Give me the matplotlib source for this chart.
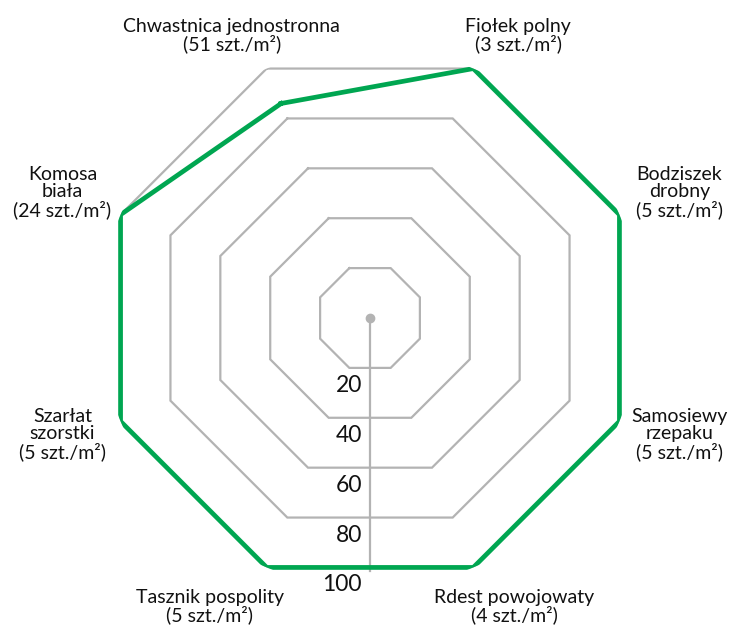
import numpy as np
import matplotlib
matplotlib.use("Agg")
import matplotlib.pyplot as plt

plt.rcParams['font.family'] = ['Lato', 'DejaVu Sans']

categories = [
    "Chwastnica jednostronna\n(51 szt./m²)",
    "Fiołek polny\n(3 szt./m²)",
    "Bodziszek\ndrobny\n(5 szt./m²)",
    "Samosiewy\nrzepaku\n(5 szt./m²)",
    "Rdest powojowaty\n(4 szt./m²)",
    "Tasznik pospolity\n(5 szt./m²)",
    "Szarłat\nszorstki\n(5 szt./m²)",
    "Komosa\nbiała\n(24 szt./m²)",
]
values = [86, 100, 100, 100, 100, 100, 100, 100]
levels = [20, 40, 60, 80, 100]
level_labels = ["20", "40", "60", "80", "100"]

# label offsets in pixels from each vertex
label_offsets = [(-35, 33), (45, 33), (60, 22), (60, -13),
                 (41, -39), (-57, -39), (-58, -13), (-58, 22)]

W, H = 729, 628
fig = plt.figure(figsize=(W / 100, H / 100), dpi=100)
cx, cy, R = 370, 318, 270
ax = fig.add_axes([(cx - R) / W, (H - cy - R) / H, 2 * R / W, 2 * R / H],
                  projection='polar')
ax.set_theta_zero_location('N')
ax.set_theta_direction(-1)
ax.set_ylim(0, 100)
ax.axis('off')

n = len(categories)
angles = np.deg2rad(-22.5 + 45 * np.arange(n))
ang_closed = np.append(angles, angles[0])

grey = '#b3b3b3'
green = '#00a651'

for lv in levels:
    ax.plot(ang_closed, [lv] * (n + 1), color=grey, lw=1.6, zorder=1,
            solid_joinstyle='miter')

apothem = np.cos(np.deg2rad(22.5))
ax.plot([np.pi, np.pi], [0, 100 * apothem + 1.2], color=grey, lw=1.6, zorder=1)
ax.plot([0], [0], 'o', color=grey, ms=6, zorder=2)

vals_closed = values + [values[0]]
ax.plot(ang_closed, vals_closed, color=green, lw=3.4, zorder=3,
        solid_joinstyle='miter')

for lv, lab in zip(levels, level_labels):
    ax.annotate(lab, xy=(np.pi, lv * apothem + 6.5), xytext=(-8, 0),
                textcoords='offset pixels', ha='right', va='center',
                fontsize=16.5, color='#111111')

for ang, lab, off in zip(angles, categories, label_offsets):
    ax.annotate(lab, xy=(ang, 100), xytext=off, textcoords='offset pixels',
                ha='center', va='center', multialignment='center',
                fontsize=14, color='#111111', linespacing=1.0,
                annotation_clip=False)

fig.savefig('out.png', dpi=100)
